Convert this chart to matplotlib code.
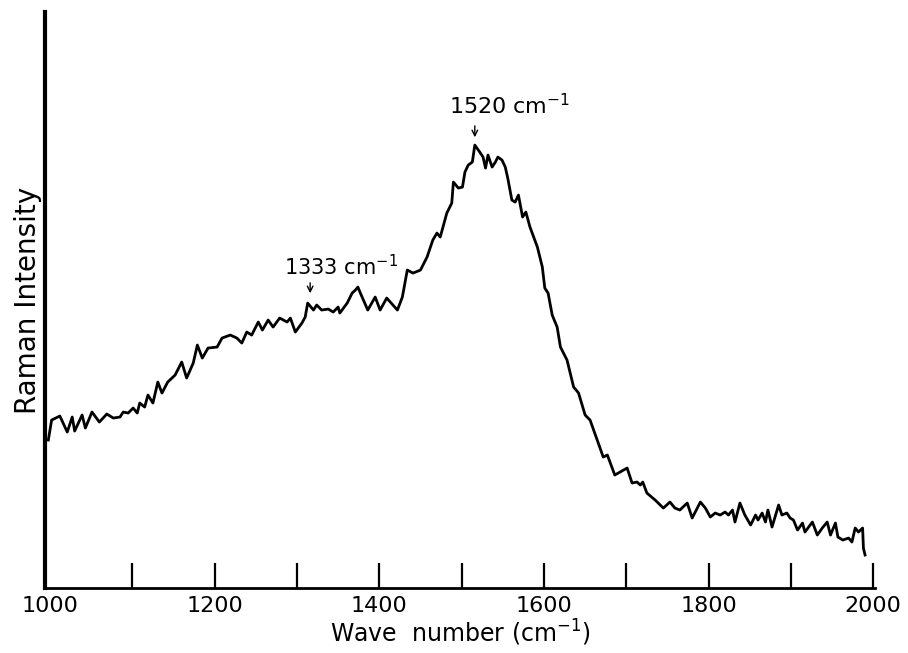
import matplotlib
matplotlib.use('Agg')
import matplotlib.pyplot as plt

# Espectro Raman (número de onda en cm-1, intensidad en unidades arbitrarias)
wave = [998, 1002, 1012, 1021, 1027, 1030, 1039, 1043, 1051, 1060, 1069, 1077, 1085, 1089,
        1095, 1101, 1106, 1109, 1115, 1119, 1125, 1131, 1136, 1143, 1152, 1160, 1166, 1174,
        1179, 1185, 1192, 1203, 1209, 1219, 1227, 1233, 1239, 1245, 1253, 1258, 1265, 1271,
        1279, 1288, 1292, 1298, 1306, 1310, 1313, 1320, 1324, 1330, 1338, 1344, 1350, 1352,
        1361, 1367, 1371, 1374, 1377, 1386, 1395, 1401, 1409, 1422, 1428, 1434, 1441, 1450,
        1458, 1465, 1470, 1474, 1482, 1488, 1490, 1496, 1501, 1504, 1508, 1513, 1516, 1522,
        1526, 1529, 1532, 1537, 1541, 1544, 1549, 1553, 1556, 1561, 1565, 1569, 1574, 1578,
        1583, 1592, 1598, 1601, 1605, 1610, 1616, 1620, 1628, 1636, 1642, 1650, 1656, 1666,
        1672, 1677, 1686, 1701, 1707, 1713, 1717, 1720, 1725, 1735, 1745, 1753, 1759, 1765,
        1774, 1780, 1790, 1796, 1802, 1808, 1814, 1820, 1824, 1829, 1832, 1838, 1844, 1851,
        1857, 1860, 1865, 1869, 1872, 1877, 1885, 1889, 1895, 1899, 1903, 1908, 1914, 1917,
        1926, 1932, 1938, 1944, 1948, 1954, 1957, 1963, 1970, 1974, 1978, 1982, 1987, 1988,
        1990]
intensidad = [148, 168, 172, 156, 171, 157, 173, 160, 176, 166, 174, 170, 171, 176,
              175, 180, 175, 185, 181, 193, 185, 206, 195, 206, 213, 226, 210, 225,
              243, 230, 240, 241, 250, 253, 250, 245, 256, 253, 266, 258, 268, 261,
              270, 266, 270, 256, 265, 271, 285, 278, 283, 278, 279, 276, 281, 275,
              285, 295, 298, 301, 295, 278, 291, 278, 290, 278, 291, 318, 315, 318,
              331, 348, 355, 351, 375, 385, 406, 400, 401, 416, 423, 426, 443, 436,
              431, 420, 433, 421, 426, 431, 428, 421, 410, 388, 386, 393, 371, 376,
              361, 341, 321, 300, 295, 273, 261, 241, 228, 201, 195, 173, 168, 145,
              131, 133, 113, 120, 105, 106, 103, 106, 95, 88, 80, 86, 80, 78,
              85, 70, 86, 80, 71, 75, 73, 76, 73, 78, 66, 85, 73, 63,
              73, 68, 75, 66, 78, 61, 83, 73, 75, 70, 68, 58, 65, 56,
              66, 53, 60, 66, 53, 65, 51, 48, 50, 46, 60, 56, 60, 40,
              33]

ticks = list(range(1000, 2001, 100))
tick_labels = [str(t) if t % 200 == 0 else '' for t in ticks]

fig = plt.figure(figsize=(9.08, 6.53), dpi=100)
ax = fig.add_axes([0.0496, 0.0995, 0.914, 0.882])

ax.plot(wave, intensidad, color='black', lw=2.0)

ax.set_xlim(994, 2002)
ax.set_ylim(0, 576)

ax.spines['top'].set_visible(False)
ax.spines['right'].set_visible(False)
ax.spines['left'].set_linewidth(3)
ax.spines['bottom'].set_linewidth(2)

ax.set_xticks(ticks)
ax.set_xticklabels(tick_labels)
ax.tick_params(axis='x', direction='in', length=18, width=1.6, pad=6, labelsize=16)
ax.xaxis.get_major_ticks()[0].tick1line.set_visible(False)  # la esquina no lleva marca
ax.set_yticks([])

ax.set_xlabel('Wave  number (cm$^{-1}$)', fontsize=17, labelpad=1)
ax.set_ylabel('Raman Intensity', fontsize=20, labelpad=2)

# Anotaciones de los picos
ax.annotate('', xy=(1516, 448), xytext=(1516, 465),
            arrowprops=dict(arrowstyle='->', lw=1, color='black'))
ax.text(1558, 482, '1520 cm$^{-1}$', fontsize=16, ha='center', va='center')

ax.annotate('', xy=(1316, 292), xytext=(1316, 308),
            arrowprops=dict(arrowstyle='->', lw=1, color='black'))
ax.text(1354, 321, '1333 cm$^{-1}$', fontsize=15, ha='center', va='center')

fig.savefig('out.png', dpi=100)
